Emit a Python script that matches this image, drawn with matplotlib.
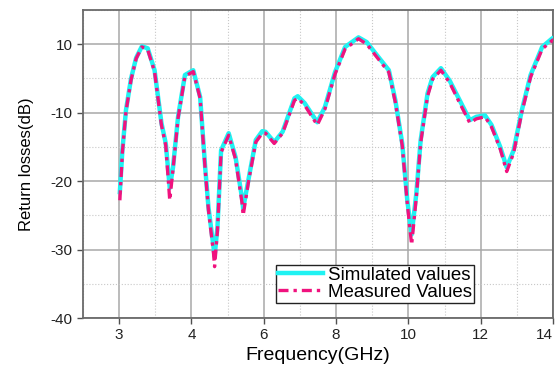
import matplotlib
matplotlib.use("Agg")
import matplotlib.pyplot as plt
from matplotlib.ticker import MultipleLocator

plt.rcParams['font.family'] = ['Liberation Sans', 'DejaVu Sans']

freq = [2.02, 2.09, 2.19, 2.33, 2.47, 2.63, 2.79, 2.98, 3.17, 3.29, 3.40, 3.49, 3.63,
        3.82, 4.05, 4.24, 4.38, 4.47, 4.61, 4.64, 4.72, 4.82, 5.03, 5.22, 5.40, 5.43,
        5.59, 5.78, 5.96, 6.05, 6.29, 6.52, 6.85, 6.94, 7.13, 7.48, 7.69, 7.97, 8.25,
        8.62, 8.85, 9.13, 9.46, 9.64, 9.83, 9.97, 10.09, 10.22, 10.34, 10.53, 10.67,
        10.90, 11.14, 11.42, 11.70, 11.88, 12.12, 12.30, 12.54, 12.72, 12.91, 13.14,
        13.38, 13.70, 13.99, 14.1]
simulated = [-21.6, -15.5, -9.6, -5.0, -2.0, -0.3, -0.6, -3.8, -11.5, -14.5, -21.0, -18.0,
             -10.6, -4.5, -3.8, -7.7, -18.0, -23.8, -29.6, -31.0, -26.7, -15.5, -13.0,
             -16.5, -22.5, -24.0, -19.4, -14.0, -12.7, -12.8, -14.3, -12.8, -7.9, -7.6,
             -8.6, -11.4, -9.2, -4.1, -0.4, 1.0, 0.3, -1.6, -3.8, -8.2, -14.5, -22.8,
             -27.8, -21.8, -14.0, -7.2, -4.8, -3.5, -5.3, -8.2, -11.1, -10.6, -10.4,
             -11.8, -15.0, -18.0, -15.5, -9.6, -4.5, -0.4, 0.9, 1.0]
measured = [-22.8, -15.8, -9.8, -5.2, -2.1, -0.4, -0.8, -4.0, -11.8, -14.8, -22.8, -18.3,
            -10.8, -4.7, -4.0, -7.9, -18.3, -24.2, -30.5, -32.5, -27.2, -15.8, -13.3,
            -16.8, -23.2, -25.0, -19.7, -14.3, -13.0, -13.0, -14.5, -13.0, -8.2, -7.9,
            -8.9, -11.8, -9.5, -4.4, -0.7, 0.8, 0.0, -1.9, -4.1, -8.5, -14.8, -23.3,
            -29.3, -22.3, -14.4, -7.6, -5.1, -3.8, -5.6, -8.6, -11.5, -10.9, -10.6,
            -12.1, -15.3, -18.6, -15.9, -9.9, -4.8, -0.7, 0.6, 0.7]

xtick_pos = [2, 4, 6, 8, 10, 12, 14]
xtick_labels = ["3", "4", "6", "8", "10", "12", "14"]
ytick_pos = [0, -10, -20, -30, -40]
ytick_labels = ["10", "-10", "-20", "-30", "-40"]

fig = plt.figure(figsize=(5.55, 3.70), dpi=100)
ax = fig.add_axes([0.1495, 0.1405, 0.8469, 0.8325])

ax.plot(freq, simulated, color='#1ff2f2', lw=3.2, solid_joinstyle='round',
        label='Simulated values', zorder=3)
ax.plot(freq, measured, color='#f0127e', lw=2.4, linestyle=(0, (3, 1.5, 1, 1.5)),
        label='Measured Values', zorder=4)

ax.set_xlim(1, 14)
ax.set_ylim(-40, 5)
ax.set_xticks(xtick_pos)
ax.set_xticklabels(xtick_labels)
ax.set_yticks(ytick_pos)
ax.set_yticklabels(ytick_labels)
ax.xaxis.set_minor_locator(MultipleLocator(1))
ax.yaxis.set_minor_locator(MultipleLocator(5))

ax.grid(which='major', color='#a8a8a8', lw=1.1, ls='-')
ax.grid(which='minor', color='#c8c8c8', lw=0.8, ls=':')
ax.tick_params(which='major', direction='out', length=4, width=1, colors='#505050',
               labelsize=11, labelcolor='#222222')
ax.tick_params(which='minor', length=0)
ax.get_xticklabels()[-1].set_horizontalalignment('right')
for s in ax.spines.values():
    s.set_color('#6a6a6a')
    s.set_linewidth(1.3)

ax.set_xlabel('Frequency(GHz)', fontsize=14, labelpad=3)
ax.set_ylabel('Return losses(dB)', fontsize=12, labelpad=12)

leg = ax.legend(loc='lower right', bbox_to_anchor=(0.832, 0.05), fontsize=13.5,
                frameon=True, fancybox=False, edgecolor='#222222', framealpha=1,
                handlelength=2.4, handletextpad=0.3, borderpad=0.1, labelspacing=0.0,
                borderaxespad=0)
leg.get_frame().set_linewidth(1.0)

fig.savefig('out.png', dpi=100)
